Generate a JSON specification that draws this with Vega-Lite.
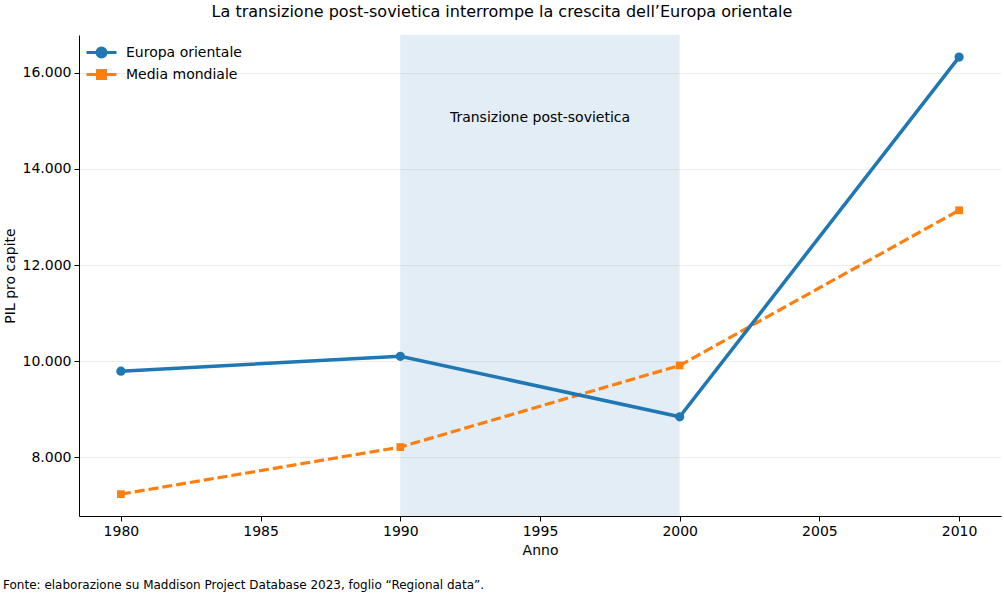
{
  "$schema": "https://vega.github.io/schema/vega-lite/v6.json",
  "padding": {"left": 3, "top": 4, "right": 3, "bottom": 5},
  "background": "white",
  "title": {
    "text": "La transizione post-sovietica interrompe la crescita dell’Europa orientale",
    "font": "DejaVu Sans", "fontSize": 16, "fontWeight": "normal", "color": "black",
    "anchor": "middle", "offset": 15
  },
  "datasets": {
    "pil": [
      {"anno": 1980, "serie": "Europa orientale", "pil": 9790},
      {"anno": 1990, "serie": "Europa orientale", "pil": 10100},
      {"anno": 2000, "serie": "Europa orientale", "pil": 8840},
      {"anno": 2010, "serie": "Europa orientale", "pil": 16330},
      {"anno": 1980, "serie": "Media mondiale", "pil": 7230},
      {"anno": 1990, "serie": "Media mondiale", "pil": 8210},
      {"anno": 2000, "serie": "Media mondiale", "pil": 9910},
      {"anno": 2010, "serie": "Media mondiale", "pil": 13140}
    ],
    "periodo": [{"inizio": 1990, "fine": 2000}],
    "nota": [{"anno": 1995, "pil": 15060, "testo": "Transizione post-sovietica"}]
  },
  "vconcat": [
    {
      "width": 922,
      "height": 481,
      "title": {
        "text": "Fonte: elaborazione su Maddison Project Database 2023, foglio “Regional data”.",
        "orient": "bottom", "anchor": "start", "frame": "bounds",
        "font": "DejaVu Sans", "fontSize": 12, "fontWeight": "normal", "color": "black",
        "offset": 23
      },
      "encoding": {
        "x": {
          "type": "quantitative",
          "scale": {"domain": [1978.5, 2011.5], "nice": false, "zero": false},
          "axis": {"title": "Anno", "values": [1980, 1985, 1990, 1995, 2000, 2005, 2010], "format": "d", "grid": false}
        },
        "y": {
          "type": "quantitative",
          "scale": {"domain": [6775, 16790], "nice": false, "zero": false},
          "axis": {
            "title": "PIL pro capite",
            "values": [8000, 10000, 12000, 14000, 16000],
            "labelExpr": "replace(format(datum.value, ',.0f'), ',', '.')",
            "grid": true, "gridColor": "#e8e8e8", "gridWidth": 0.8
          }
        }
      },
      "layer": [
        {
          "data": {"name": "periodo"},
          "mark": {"type": "rect", "color": "#1f77b4", "opacity": 0.13},
          "encoding": {
            "x": {"field": "inizio", "type": "quantitative", "title": "Anno"},
            "x2": {"field": "fine"},
            "y": null
          }
        },
        {
          "data": {"name": "nota"},
          "mark": {"type": "text", "font": "DejaVu Sans", "fontSize": 14, "color": "black"},
          "encoding": {
            "x": {"field": "anno", "type": "quantitative"},
            "y": {"field": "pil", "type": "quantitative"},
            "text": {"field": "testo"}
          }
        },
        {
          "data": {"name": "pil"},
          "transform": [{"filter": "datum.serie === 'Media mondiale'"}],
          "mark": {"type": "line", "strokeWidth": 3.2, "color": "#ff7f0e", "strokeDash": [10, 4]},
          "encoding": {
            "x": {"field": "anno", "type": "quantitative"},
            "y": {"field": "pil", "type": "quantitative"}
          }
        },
        {
          "data": {"name": "pil"},
          "transform": [{"filter": "datum.serie === 'Europa orientale'"}],
          "mark": {"type": "line", "strokeWidth": 3.5},
          "encoding": {
            "x": {"field": "anno", "type": "quantitative"},
            "y": {"field": "pil", "type": "quantitative"},
            "color": {
              "field": "serie", "type": "nominal",
              "scale": {"domain": ["Europa orientale", "Media mondiale"], "range": ["#1f77b4", "#ff7f0e"]},
              "legend": {
                "title": null, "orient": "none", "legendX": 12, "legendY": 7,
                "labelFont": "DejaVu Sans", "labelFontSize": 14, "labelColor": "black",
                "symbolSize": 300, "symbolStrokeWidth": 3, "labelOffset": 14,
                "rowPadding": -2, "padding": 0,
                "encode": {
                  "symbols": {
                    "update": {
                      "shape": {"signal": "datum.value === 'Europa orientale' ? 'M-1.73,0L1.73,0M-0.52,0A0.52,0.52 0 1 0 0.52,0A0.52,0.52 0 1 0 -0.52,0Z' : 'M-1.73,0L1.73,0M-0.46,-0.46L0.46,-0.46L0.46,0.46L-0.46,0.46Z'"},
                      "fill": {"signal": "scale('color', datum.value)"},
                      "stroke": {"signal": "scale('color', datum.value)"},
                      "strokeWidth": {"value": 3}
                    }
                  }
                }
              }
            }
          }
        },
        {
          "data": {"name": "pil"},
          "transform": [{"filter": "datum.serie === 'Europa orientale'"}],
          "mark": {"type": "point", "filled": true, "opacity": 1, "shape": "circle", "size": 85, "color": "#1f77b4"},
          "encoding": {
            "x": {"field": "anno", "type": "quantitative"},
            "y": {"field": "pil", "type": "quantitative"}
          }
        },
        {
          "data": {"name": "pil"},
          "transform": [{"filter": "datum.serie === 'Media mondiale'"}],
          "mark": {"type": "point", "filled": true, "opacity": 1, "shape": "square", "size": 60, "color": "#ff7f0e"},
          "encoding": {
            "x": {"field": "anno", "type": "quantitative"},
            "y": {"field": "pil", "type": "quantitative"}
          }
        }
      ]
    }
  ],
  "config": {
    "font": "DejaVu Sans",
    "view": {"stroke": null},
    "axis": {
      "labelFont": "DejaVu Sans", "labelFontSize": 14, "labelColor": "black",
      "titleFont": "DejaVu Sans", "titleFontSize": 14, "titleFontWeight": "normal", "titleColor": "black",
      "domainColor": "black", "domainWidth": 1, "tickColor": "black", "tickSize": 5, "tickWidth": 1,
      "labelPadding": 3, "titlePadding": 5
    }
  }
}
